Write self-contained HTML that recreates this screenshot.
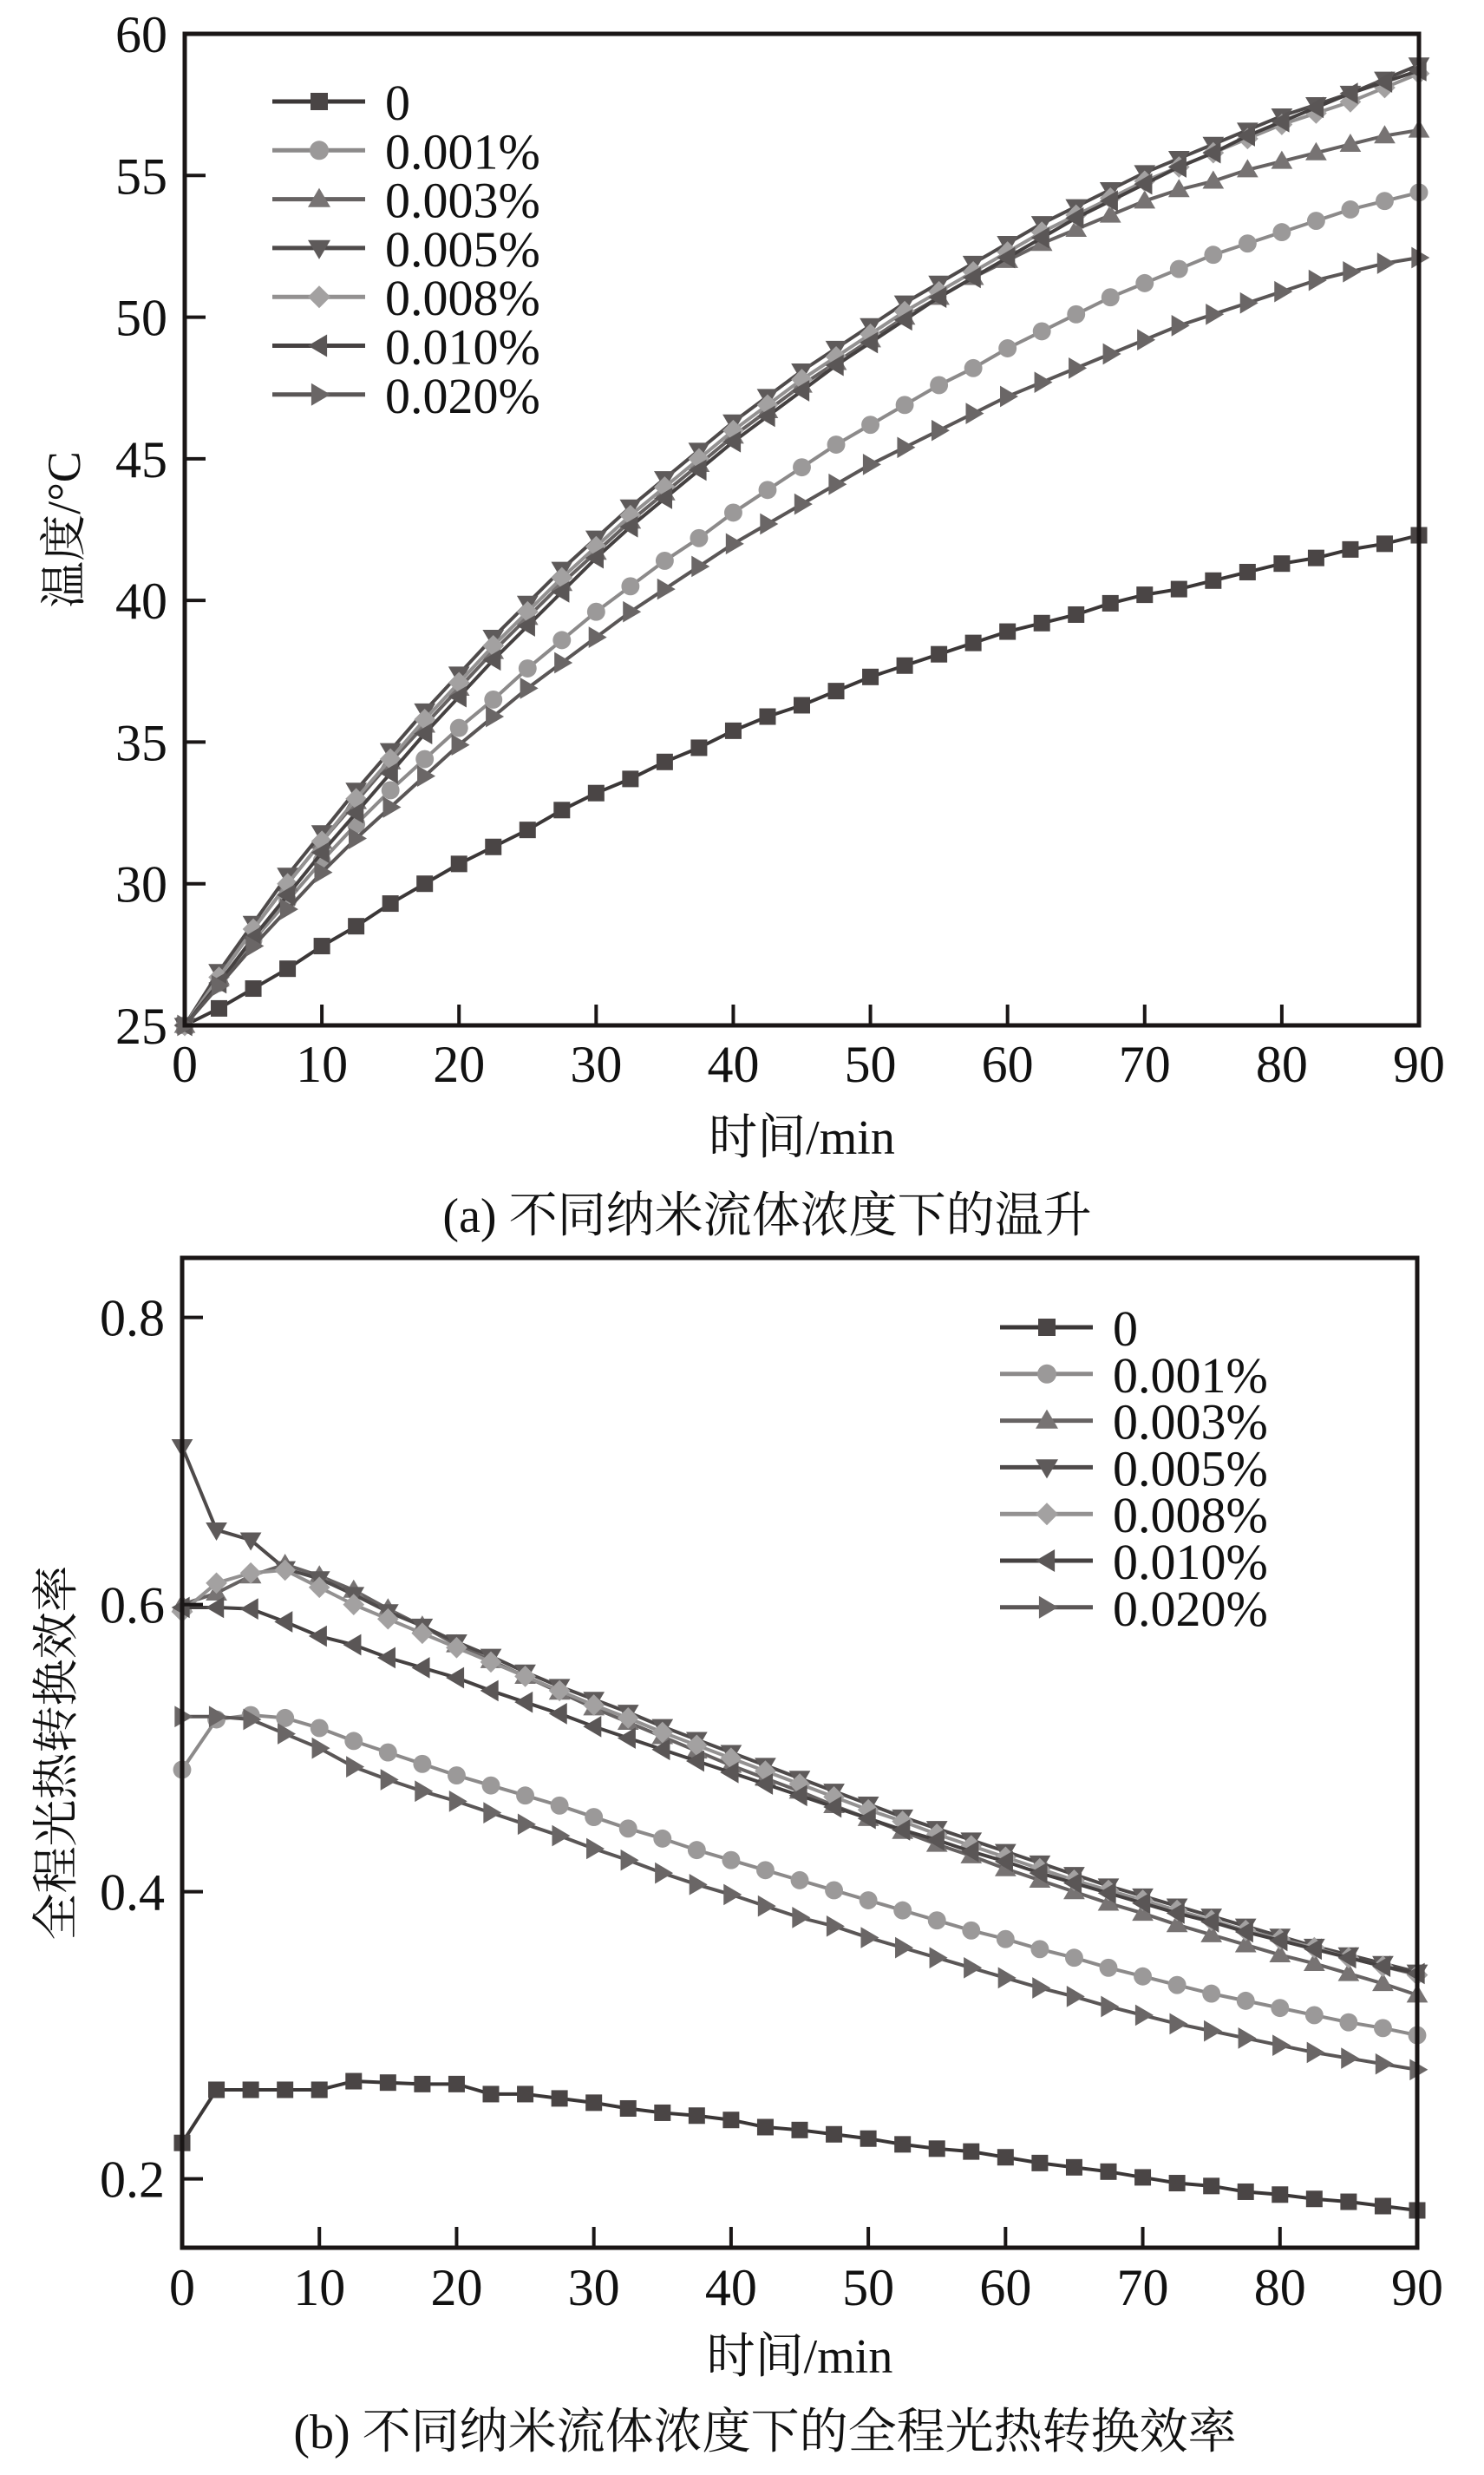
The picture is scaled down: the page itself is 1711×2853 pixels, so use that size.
<!DOCTYPE html>
<html><head><meta charset="utf-8"><style>
html,body{margin:0;padding:0;background:#fff;}
svg{display:block;}
text{font-family:"Liberation Serif","Noto Serif CJK SC",serif;fill:#111;}
</style></head><body>
<svg id="fig" width="1711" height="2853" viewBox="0 0 1711 2853" xmlns="http://www.w3.org/2000/svg"></svg>
<script>
const times = [0,2.5,5,7.5,10,12.5,15,17.5,20,22.5,25,27.5,30,32.5,35,37.5,40,42.5,45,47.5,50,52.5,55,57.5,60,62.5,65,67.5,70,72.5,75,77.5,80,82.5,85,87.5,90];
const seriesNames = ["0","0.001%","0.003%","0.005%","0.008%","0.010%","0.020%"];
const xTicks = [0,10,20,30,40,50,60,70,80,90];
const yTicksA = [25,30,35,40,45,50,55,60];
const yTicksB = [0.2,0.4,0.6,0.8];
// Chart (a) temperatures
const tempS0 = [25,25.6,26.3,27,27.8,28.5,29.3,30,30.7,31.3,31.9,32.6,33.2,33.7,34.3,34.8,35.4,35.9,36.3,36.8,37.3,37.7,38.1,38.5,38.9,39.2,39.5,39.9,40.2,40.4,40.7,41,41.3,41.5,41.8,42,42.3];
const tempS001 = [25,26.5,28,29.4,30.8,32.1,33.3,34.4,35.5,36.5,37.6,38.6,39.6,40.5,41.4,42.2,43.1,43.9,44.7,45.5,46.2,46.9,47.6,48.2,48.9,49.5,50.1,50.7,51.2,51.7,52.2,52.6,53,53.4,53.8,54.1,54.4];
const tempS003 = [25,26.7,28.4,30,31.5,32.9,34.3,35.6,36.9,38.2,39.4,40.6,41.7,42.8,43.8,44.8,45.8,46.7,47.6,48.4,49.2,50,50.7,51.4,52,52.6,53.1,53.6,54.1,54.5,54.8,55.2,55.5,55.8,56.1,56.4,56.6];
const tempS005 = [25,26.9,28.6,30.3,31.8,33.3,34.7,36.1,37.4,38.7,39.9,41.1,42.2,43.3,44.3,45.3,46.3,47.2,48.1,48.9,49.7,50.5,51.2,51.9,52.6,53.3,53.9,54.5,55.1,55.6,56.1,56.6,57.1,57.5,57.9,58.4,58.9];
const tempS008 = [25,26.7,28.4,30,31.5,33,34.4,35.8,37.1,38.4,39.6,40.8,41.9,43,44,45,46,46.9,47.8,48.6,49.4,50.2,50.9,51.6,52.3,53,53.6,54.2,54.8,55.3,55.8,56.3,56.8,57.2,57.6,58.1,58.6];
const tempS010 = [25,26.5,28.1,29.6,31.1,32.5,33.9,35.3,36.6,37.9,39.1,40.3,41.5,42.6,43.6,44.6,45.6,46.5,47.4,48.3,49.1,49.9,50.7,51.4,52.1,52.8,53.5,54.1,54.7,55.3,55.8,56.4,56.9,57.4,57.9,58.3,58.7];
const tempS020 = [25,26.4,27.8,29.1,30.4,31.6,32.7,33.8,34.9,35.9,36.9,37.8,38.7,39.6,40.4,41.2,42,42.7,43.4,44.1,44.8,45.4,46,46.6,47.2,47.7,48.2,48.7,49.2,49.7,50.1,50.5,50.9,51.3,51.6,51.9,52.1];
// Chart (b) efficiency
const effS0 = [0.225,0.262,0.262,0.262,0.262,0.268,0.267,0.266,0.266,0.259,0.259,0.256,0.253,0.249,0.246,0.244,0.241,0.236,0.234,0.231,0.228,0.224,0.221,0.219,0.215,0.211,0.208,0.205,0.201,0.197,0.195,0.191,0.189,0.186,0.184,0.181,0.178];
const effS001 = [0.485,0.52,0.523,0.521,0.514,0.505,0.497,0.489,0.481,0.474,0.467,0.46,0.452,0.444,0.437,0.429,0.422,0.415,0.408,0.401,0.394,0.387,0.38,0.373,0.367,0.36,0.354,0.347,0.341,0.335,0.329,0.324,0.319,0.314,0.309,0.305,0.3];
const effS003 = [0.6,0.608,0.62,0.628,0.62,0.61,0.597,0.585,0.572,0.561,0.55,0.539,0.528,0.518,0.508,0.498,0.488,0.479,0.47,0.46,0.451,0.442,0.433,0.425,0.416,0.408,0.4,0.392,0.385,0.377,0.37,0.363,0.356,0.35,0.343,0.336,0.328];
const effS005 = [0.71,0.652,0.645,0.625,0.618,0.607,0.595,0.585,0.574,0.564,0.553,0.543,0.534,0.525,0.515,0.506,0.497,0.488,0.479,0.47,0.461,0.452,0.444,0.436,0.428,0.42,0.412,0.404,0.397,0.39,0.383,0.376,0.369,0.362,0.356,0.35,0.344];
const effS008 = [0.595,0.615,0.622,0.624,0.612,0.6,0.59,0.58,0.57,0.56,0.55,0.54,0.53,0.521,0.511,0.502,0.493,0.484,0.475,0.466,0.457,0.449,0.44,0.432,0.424,0.416,0.408,0.401,0.394,0.387,0.38,0.373,0.367,0.361,0.354,0.348,0.342];
const effS010 = [0.598,0.598,0.597,0.588,0.578,0.572,0.563,0.556,0.549,0.54,0.532,0.524,0.515,0.507,0.499,0.491,0.483,0.475,0.467,0.459,0.451,0.443,0.436,0.428,0.421,0.413,0.406,0.399,0.392,0.385,0.379,0.372,0.366,0.36,0.354,0.348,0.343];
const effS020 = [0.522,0.522,0.52,0.51,0.5,0.487,0.478,0.47,0.463,0.455,0.447,0.439,0.43,0.422,0.413,0.405,0.398,0.39,0.382,0.376,0.368,0.361,0.354,0.347,0.34,0.333,0.327,0.32,0.314,0.308,0.303,0.298,0.293,0.288,0.284,0.28,0.276];

const NS="http://www.w3.org/2000/svg";
const svg=document.getElementById('fig');
function mk(tag,attrs,parent){const e=document.createElementNS(NS,tag);for(const k in attrs)e.setAttribute(k,attrs[k]);(parent||svg).appendChild(e);return e;}
const styles=[
 {m:'square',line:'#3b3737',fill:'#4a4545'},
 {m:'circle',line:'#8c8a8a',fill:'#9b9999'},
 {m:'up',line:'#666262',fill:'#777373'},
 {m:'down',line:'#4e4a4a',fill:'#5e5a5a'},
 {m:'diamond',line:'#939191',fill:'#a3a1a1'},
 {m:'left',line:'#454141',fill:'#5a5656'},
 {m:'right',line:'#5a5656',fill:'#6a6666'}
];
function marker(g,type,x,y,fill,s){
 let e;
 if(type==='square')e=mk('rect',{x:x-s*0.5,y:y-s*0.5,width:s,height:s,fill:fill},g);
 else if(type==='circle')e=mk('circle',{cx:x,cy:y,r:s*0.55,fill:fill},g);
 else{
  let p;const r=s*0.65;
  if(type==='up')p=[[x,y-r],[x+r,y+r*0.7],[x-r,y+r*0.7]];
  if(type==='down')p=[[x,y+r],[x+r,y-r*0.7],[x-r,y-r*0.7]];
  if(type==='left')p=[[x-r,y],[x+r*0.7,y-r],[x+r*0.7,y+r]];
  if(type==='right')p=[[x+r,y],[x-r*0.7,y-r],[x-r*0.7,y+r]];
  if(type==='diamond')p=[[x,y-r],[x+r,y],[x,y+r],[x-r,y]];
  e=mk('polygon',{points:p.map(q=>q.join(',')).join(' '),fill:fill},g);
 }
 
 
}
function chart(cfg){
 const {L,R,T,B,ymin,ymax,yTicks,yFmt,data,id,legX,legY,legDy,yTitle,yTitleX,tickLabelY,xTitleY,caption,captionY}=cfg;
 const sx=v=>L+(v-0)/(90-0)*(R-L);
 const sy=v=>B-(v-ymin)/(ymax-ymin)*(B-T);
 const g=mk('g',{});
 
 
 // series
 data.forEach((arr,i)=>{
  const st=styles[i];
  const sg=mk('g',{},g);
  
  
  const pts=arr.map((v,j)=>sx(times[j])+','+sy(v)).join(' ');
  const pl=mk('polyline',{points:pts,fill:'none',stroke:st.line,'stroke-width':4},sg);
  
  
  arr.forEach((v,j)=>marker(sg,st.m,sx(times[j]),sy(v),st.fill,19));
 });
 // frame
 const fr=mk('rect',{x:L,y:T,width:R-L,height:B-T,fill:'none',stroke:'#1a1616','stroke-width':5},g);
 
 
 xTicks.forEach(v=>{
  const x=sx(v);
  if(v>0&&v<90){const t=mk('line',{x1:x,x2:x,y1:B,y2:B-24,stroke:'#1a1616','stroke-width':4},g);
  }
  const tx=mk('text',{x:x,y:tickLabelY,'text-anchor':'middle','font-size':60},g);
  tx.textContent=v;
  
  
 });
 yTicks.forEach(v=>{
  const y=sy(v);
  if(v>ymin&&v<ymax){const t=mk('line',{x1:L,x2:L+24,y1:y,y2:y,stroke:'#1a1616','stroke-width':4},g);
  }
  const tx=mk('text',{x:L-20,y:y+21,'text-anchor':'end','font-size':60},g);
  tx.textContent=yFmt(v);
  
  
 });
 const yt=mk('text',{x:0,y:0,'text-anchor':'middle','font-size':54,transform:`translate(${yTitleX},${(T+B)/2}) rotate(-90)`},g);
 yt.textContent=yTitle;
 
 
 const xt=mk('text',{x:(L+R)/2,y:xTitleY,'text-anchor':'middle','font-size':56},g);
 xt.textContent='时间/min';
 
 
 const cp=mk('text',{x:(L+R)/2-40,y:captionY,'text-anchor':'middle','font-size':56},g);
 cp.textContent=caption;
 
 
 // legend
 const lg=mk('g',{},g);
 
 
 seriesNames.forEach((n,i)=>{
  const st=styles[i];const y=legY+i*legDy;
  const eg=mk('g',{},lg);
  
  
  mk('line',{x1:legX,x2:legX+107,y1:y,y2:y,stroke:st.line,'stroke-width':5},eg);
  marker(eg,st.m,legX+54,y,st.fill,20);
  const t=mk('text',{x:legX+130,y:y+21,'font-size':58},eg);
  t.textContent=n;
 });
}
chart({L:213,R:1636,T:39,B:1182,ymin:25,ymax:60,yTicks:yTicksA,yFmt:v=>v,
 data:[tempS0,tempS001,tempS003,tempS005,tempS008,tempS010,tempS020],id:'chart-temperature',
 legX:314,legY:117,legDy:56.3,yTitle:'温度/°C',yTitleX:92,tickLabelY:1247,xTitleY:1330,
 caption:'(a) 不同纳米流体浓度下的温升',captionY:1420});
chart({L:210,R:1634,T:1450,B:2591,ymin:0.152,ymax:0.8415,yTicks:yTicksB,yFmt:v=>v.toFixed(1),
 data:[effS0,effS001,effS003,effS005,effS008,effS010,effS020],id:'chart-efficiency',
 legX:1153,legY:1530,legDy:53.8,yTitle:'全程光热转换效率',yTitleX:83,tickLabelY:2657,xTitleY:2735,
 caption:'(b) 不同纳米流体浓度下的全程光热转换效率',captionY:2822});
</script>
</body></html>
